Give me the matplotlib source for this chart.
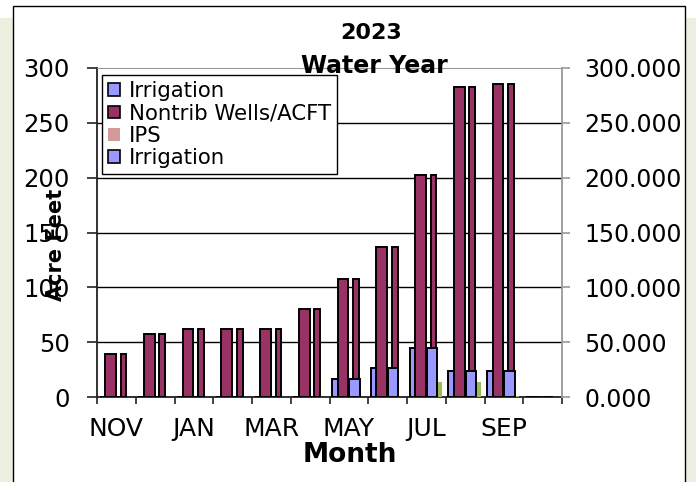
import matplotlib
matplotlib.use('Agg')
import matplotlib.pyplot as plt
import matplotlib.patches as mpatches
from matplotlib.ticker import FormatStrFormatter

months = ['NOV', 'DEC', 'JAN', 'FEB', 'MAR', 'APR',
          'MAY', 'JUN', 'JUL', 'AUG', 'SEP', 'OCT']
nontrib_wells = [39.5, 58, 62.5, 62, 62.5, 80, 108, 136.5, 202.5, 282.5, 285.5, 0]
irrigation = [0, 0, 0, 0, 0, 0, 16.5, 27, 45, 23.5, 23.5, 0]
ips = [0, 0, 0, 0, 0, 0, 0, 0, 13.5, 13.5, 0.8, 0]
y_ticks = [0, 50, 100, 150, 200, 250, 300]

legend_labels = ['Irrigation', 'Nontrib Wells/ACFT', 'IPS', 'Irrigation']

blue = '#9999ff'
maroon = '#993366'
pink = '#d49a9a'
green = '#9bbb59'
beige = '#edefe1'

W, H = 696, 482
fig = plt.figure(figsize=(W / 100, H / 100), dpi=100, facecolor='white')

# page background strips and the chart box
fig.add_artist(mpatches.Rectangle((0, 0), 13 / W, 1 - 18 / H, transform=fig.transFigure,
                                  facecolor=beige, edgecolor='none', zorder=-5))
fig.add_artist(mpatches.Rectangle((685 / W, 0), 11 / W, 1 - 18 / H, transform=fig.transFigure,
                                  facecolor=beige, edgecolor='none', zorder=-5))
fig.add_artist(mpatches.Rectangle((13 / W, -0.05), 672 / W, 1.05 - 6 / H, transform=fig.transFigure,
                                  facecolor='white', edgecolor='black', lw=1.0, zorder=-4))

ax = fig.add_axes([97 / W, 1 - 397.3 / H, 465 / W, 329.6 / H])
ax.set_facecolor('none')
ax2 = ax.twinx()

x = list(range(len(months)))
edge = dict(edgecolor='black', linewidth=1.4, align='edge')

# primary (wide) bars
ax.bar([i + 0.065 for i in x], irrigation, width=0.28, color=blue, zorder=3, **edge)
ax.bar([i + 0.21 for i in x], nontrib_wells, width=0.28, color=maroon, zorder=3, **edge)

# secondary (narrow) bars
ax2.bar([i + 0.61 for i in x], nontrib_wells, width=0.15, color=maroon, zorder=3, **edge)
ax2.bar([i + 0.51 for i in x], irrigation, width=0.27, color=blue, zorder=4, **edge)
ax2.bar([i + 0.80 for i in x], ips, width=0.10, color=green, zorder=4,
        edgecolor='none', align='edge')

for a in (ax, ax2):
    a.set_xlim(0, len(months))
    a.set_ylim(0, 300)
    a.set_yticks(y_ticks)

ax.yaxis.grid(True, color='black', lw=1.0, zorder=1)
ax.get_ygridlines()[-1].set_visible(False)
ax.set_axisbelow(True)

ax.spines['left'].set_color('#222222')
ax.spines['left'].set_linewidth(1.3)
ax.spines['bottom'].set_color('#222222')
ax.spines['bottom'].set_linewidth(1.3)
ax.spines['top'].set_color('#999999')
ax.spines['right'].set_visible(False)
for s in ('left', 'bottom', 'top'):
    ax2.spines[s].set_visible(False)
ax2.spines['right'].set_color('#999999')
ax2.spines['right'].set_linewidth(1.3)

ax.tick_params(axis='y', direction='out', length=7.5, width=1.2, color='#222222',
               labelsize=17.5, pad=12)
ax2.tick_params(axis='y', direction='out', length=6, width=1.2, color='#999999',
                labelsize=17, pad=10)
ax2.yaxis.set_major_formatter(FormatStrFormatter('%.3f'))

# month boundaries as ticks, every other month labelled at its centre
ax.set_xticks(range(len(months) + 1), minor=True)
ax.set_xticks([i + 0.5 for i in x[::2]])
ax.set_xticklabels(months[::2])
ax.tick_params(axis='x', which='minor', direction='out', length=5, width=1.2, color='#222222')
ax.tick_params(axis='x', which='major', length=0, labelsize=18, pad=14)

fig.text(371 / W, 1 - 33 / H, '2023', ha='center', va='center', fontsize=16, fontweight='bold')
fig.text(374 / W, 1 - 66 / H, 'Water Year', ha='center', va='center', fontsize=17,
         fontweight='bold')
fig.text(350 / W, 1 - 455 / H, 'Month', ha='center', va='center', fontsize=19, fontweight='bold')
fig.text(56 / W, 1 - 245 / H, 'Acre Feet', ha='center', va='center', rotation=90,
         fontsize=15, fontweight='bold')

handles = [
    mpatches.Patch(facecolor=blue, edgecolor='black', lw=1.2),
    mpatches.Patch(facecolor=maroon, edgecolor='black', lw=1.2),
    mpatches.Patch(facecolor=pink, edgecolor='none'),
    mpatches.Patch(facecolor=blue, edgecolor='black', lw=1.2),
]
leg = fig.legend(handles, legend_labels, loc='upper left',
                 bbox_to_anchor=(102 / W, 1 - 75 / H), bbox_transform=fig.transFigure,
                 borderaxespad=0, fontsize=15.3, frameon=True, fancybox=False,
                 framealpha=1, edgecolor='black', handlelength=0.55, handleheight=0.55,
                 handletextpad=0.4, labelspacing=0.1, borderpad=0.3)
leg.get_frame().set_linewidth(1.0)

fig.savefig('out.png', dpi=100, facecolor=fig.get_facecolor())
